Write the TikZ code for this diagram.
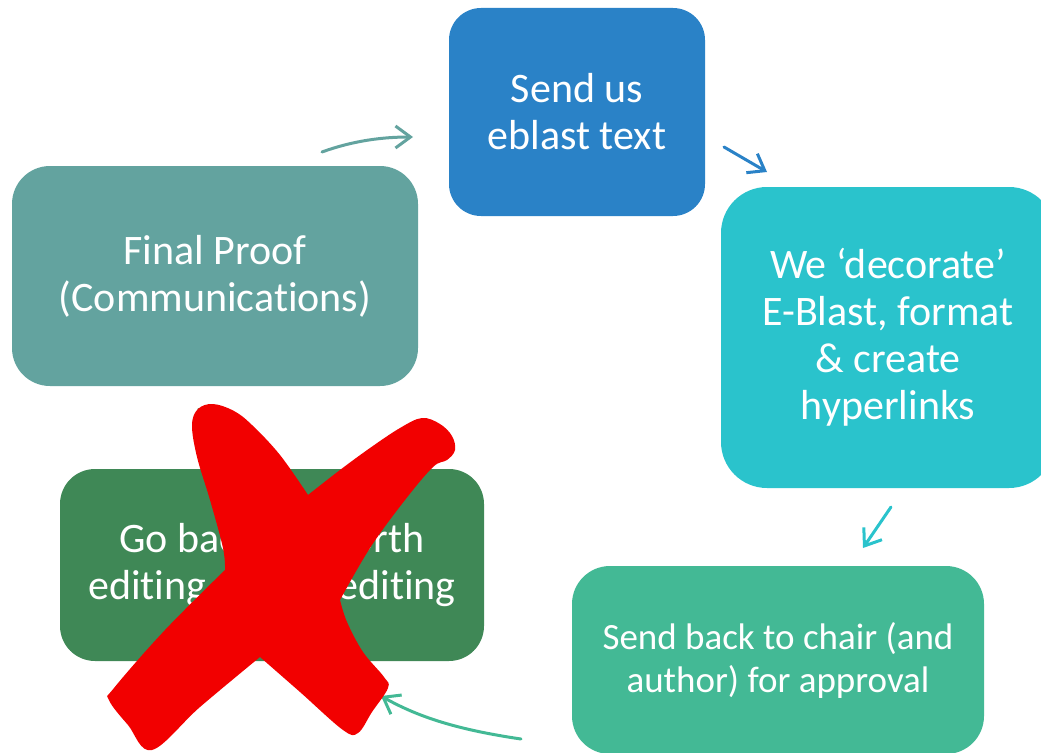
\documentclass[tikz,border=0pt]{standalone}
\usepackage{fontspec}
\setmainfont{Carlito}[Ligatures={NoCommon,NoRare}]
\usetikzlibrary{arrows.meta}
\definecolor{cblue}{HTML}{2A82C7}
\definecolor{ccyan}{HTML}{2AC3CC}
\definecolor{cgreen}{HTML}{43B995}
\definecolor{cdark}{HTML}{3F8856}
\definecolor{cteal}{HTML}{63A39F}
\definecolor{cred}{HTML}{F20000}
\begin{document}
\begin{tikzpicture}[x=1pt,y=-1pt,
  box/.style={text=white, align=center, inner sep=0pt, font=\fontsize{42}{47}\selectfont},
  smallbox/.style={box, font=\fontsize{37}{43}\selectfont},
  arr/.style={line width=3pt, line cap=round, -{Straight Barb[length=15pt,width=22pt,line width=3pt]}}]
\useasboundingbox (0,0) rectangle (1041,752);
\clip (0,0) rectangle (1041,752);
% boxes
\node[box, fill=cblue, rounded corners=32pt, minimum width=256pt, minimum height=208pt] (send) at (577,112) {Send us\\eblast text};
\node[box, fill=ccyan, rounded corners=46pt, minimum width=334pt, minimum height=301pt] (deco) at (888,337.5) {We ‘decorate’\\E-Blast, format\\\& create\\hyperlinks};
\node[smallbox, fill=cgreen, rounded corners=38pt, minimum width=412pt, minimum height=188pt] (chair) at (778,660) {Send back to chair (and\\author) for approval};
\node[box, fill=cdark, rounded corners=35pt, minimum width=424pt, minimum height=192pt] (back) at (272,565) {Go back and forth\\editing and re-editing};
\node[box, fill=cteal, rounded corners=38pt, minimum width=406pt, minimum height=220pt] (final) at (215,276) {Final Proof\\(Communications)};
% arrow end points
\coordinate (a1s) at (322,152); \coordinate (a1e) at (413,137);
\coordinate (a2s) at (724,147); \coordinate (a2e) at (767,172);
\coordinate (a3s) at (891,507); \coordinate (a3e) at (863,548);
\coordinate (a4s) at (521,739); \coordinate (a4e) at (381,696);
\coordinate (a5s) at (218,458); \coordinate (a5e) at (198,408);
\draw[arr, cteal] (a1s) .. controls (355,140) and (385,137) .. (a1e);
\draw[arr, cblue] (a2s) -- (a2e);
\draw[arr, ccyan] (a3s) -- (a3e);
\draw[arr, cgreen] (a4s) .. controls (460,730) and (420,718) .. (a4e);
\draw[arr, cdark] (a5s) -- (a5e);
% red cross
\fill[cred]
  plot[smooth, tension=0.6] coordinates {(225,570)(223,548)(210,500)(197,457)(192,425)(198,409)(213,404)(234,411)(252,425)(280,455)(308,495)}
  -- plot[smooth, tension=0.6] coordinates {(308,495)(340,470)(370,448)(400,428)(422,418)(440,424)(452,436)(455,450)(447,460)(433,467)(405,500)(370,548)(340,600)}
  -- plot[smooth, tension=0.6] coordinates {(340,600)(347,622)(363,652)(384,677)(388,688)(372,712)(358,733)(343,730)(300,692)(260,657)}
  -- plot[smooth, tension=0.6] coordinates {(260,657)(200,707)(152,750)(128,725)(109,700)(114,688)(165,630)(225,570)}
  -- cycle;
\end{tikzpicture}
\end{document}
